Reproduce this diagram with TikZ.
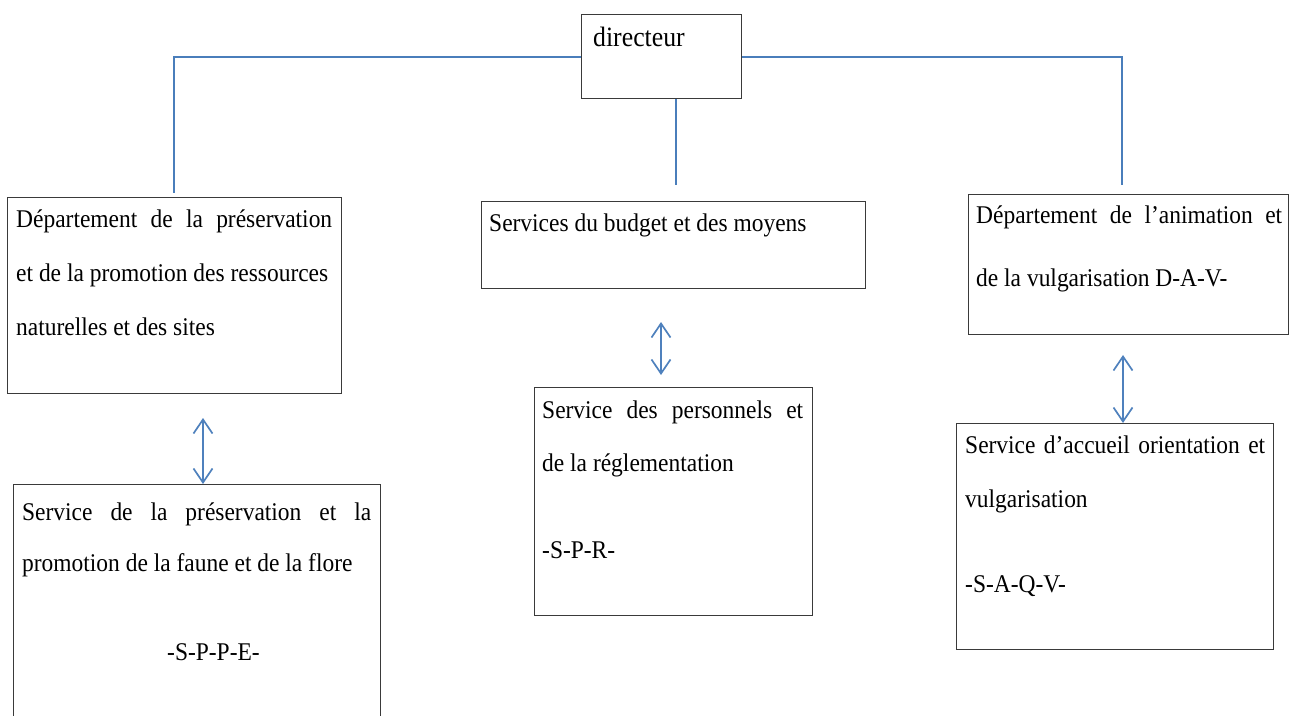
\documentclass[tikz,border=0pt]{standalone}
\usepackage{fontspec}
\setmainfont{Liberation Serif}[FakeStretch=0.92]
\usetikzlibrary{arrows.meta}

\definecolor{linkblue}{HTML}{4A7EBB}
\definecolor{arrowblue}{HTML}{4F81BD}
\definecolor{framegray}{HTML}{3A3A3A}

% multi-line cell text: width, line pitch, lines
\newcommand{\celltext}[3]{\parbox[t]{#1}{\setlength{\baselineskip}{#2}#3}}
% a line stretched to the full width (justified)
\newcommand{\fullline}[2]{\makebox[#1][s]{#2}}

\begin{document}
\begin{tikzpicture}[x=1pt,y=-1pt,
  orgbox/.style={draw=framegray, line width=1.3pt, inner sep=0pt, anchor=north west},
  cell/.style={anchor=base west, inner sep=0pt, font=\fontsize{25.5}{30}\selectfont},
  link/.style={draw=linkblue, line width=2pt},
  twoway/.style={draw=arrowblue, line width=1.7pt,
    {Straight Barb[length=14pt,width=19pt]}-{Straight Barb[length=14pt,width=19pt]}}]

\useasboundingbox (0,0) rectangle (1290,715);
\clip (0,0) rectangle (1290,715);

% boxes
\node[orgbox, minimum width=160pt, minimum height=84pt]  (dir)    at (581,14)  {};
\node[orgbox, minimum width=334pt, minimum height=196pt] (dept)   at (7,197)   {};
\node[orgbox, minimum width=384pt, minimum height=87pt]  (budget) at (481,201) {};
\node[orgbox, minimum width=320pt, minimum height=140pt] (dav)    at (968,194) {};
\node[orgbox, minimum width=367pt, minimum height=260pt] (sppe)   at (13,484)  {};
\node[orgbox, minimum width=278pt, minimum height=228pt] (spr)    at (534,387) {};
\node[orgbox, minimum width=317pt, minimum height=226pt] (saqv)   at (956,423) {};

% texts
\node[cell, font=\fontsize{28}{32}\selectfont] (tdir) at (593,46) {directeur};
\node[cell] (tdept) at (16,227) {\celltext{316pt}{54pt}{%
  \fullline{316pt}{Département de la préservation}\\
  et de la promotion des ressources\\
  naturelles et des sites}};
\node[cell] (tbudget) at (489,231) {Services du budget et des moyens};
\node[cell] (tdav) at (976,223) {\celltext{306pt}{63pt}{%
  \fullline{306pt}{Département de l’animation et}\\
  de la vulgarisation D-A-V-}};
\node[cell] (tsppe) at (22,520) {\celltext{349pt}{51pt}{%
  \fullline{349pt}{Service de la préservation et la}\\
  promotion de la faune et de la flore\\[38pt]
  \hspace*{145pt}-S-P-P-E-}};
\node[cell] (tspr) at (542,418) {\celltext{261pt}{53pt}{%
  \fullline{261pt}{Service des personnels et}\\
  de la réglementation\\[34pt]
  -S-P-R-}};
\node[cell] (tsaqv) at (965,453) {\celltext{300pt}{54pt}{%
  \fullline{300pt}{Service d’accueil orientation et}\\
  vulgarisation\\[31pt]
  -S-A-Q-V-}};

% connectors from the director
\coordinate (ldrop) at (174,193);
\coordinate (cdrop) at (676,185);
\coordinate (rdrop) at (1122,185);
\draw[link] (dir.west) -| (ldrop);
\draw[link] (dir.east) -| (rdrop);
\draw[link] (dir.south -| cdrop) -- (cdrop);

% two-way arrows between departments and services
\coordinate (la) at (203,418);
\coordinate (ca) at (661,322);
\coordinate (ra) at (1123,355);
\draw[twoway] (la) -- (la |- sppe.north);
\draw[twoway] (ca) -- ([yshift=12pt]ca |- spr.north);
\draw[twoway] (ra) -- (ra |- saqv.north);
\end{tikzpicture}
\end{document}
